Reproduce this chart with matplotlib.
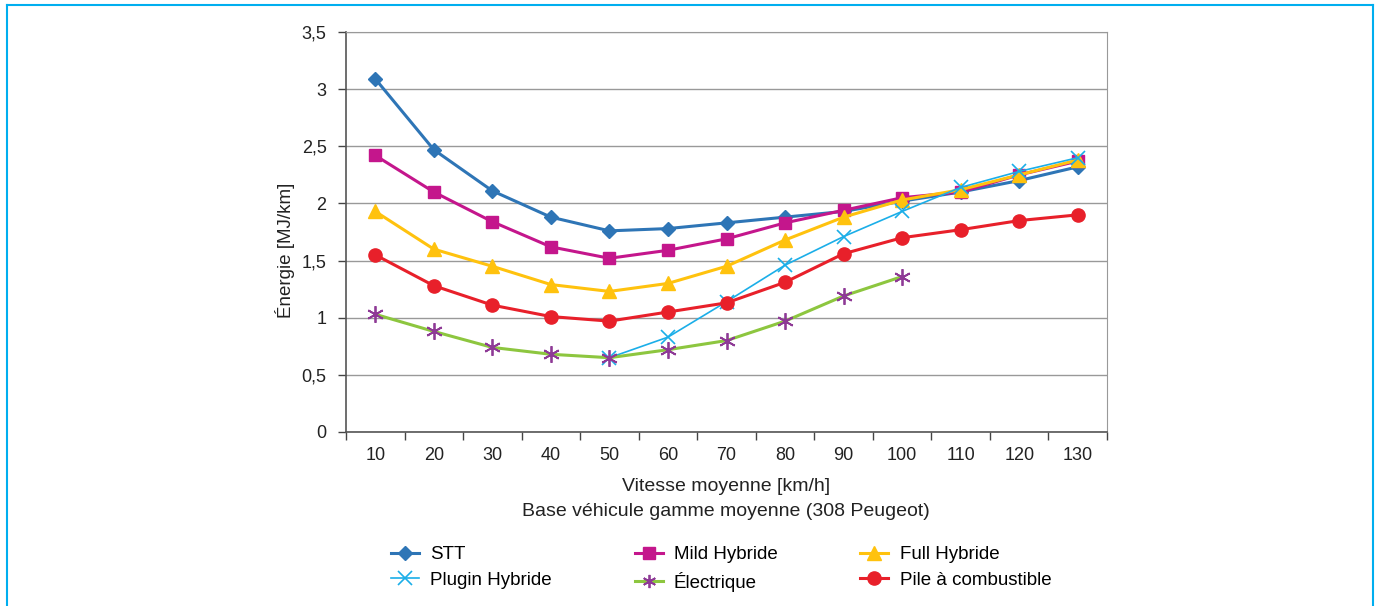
import matplotlib.pyplot as plt
import numpy as np
from matplotlib.lines import Line2D

nan = np.nan
speeds = ["10", "20", "30", "40", "50", "60", "70", "80", "90", "100", "110", "120", "130"]
stt = [3.09, 2.47, 2.11, 1.88, 1.76, 1.78, 1.83, 1.88, 1.93, 2.02, 2.10, 2.20, 2.32]
mild = [2.42, 2.10, 1.84, 1.62, 1.52, 1.59, 1.69, 1.83, 1.94, 2.05, 2.10, 2.25, 2.37]
full = [1.93, 1.60, 1.45, 1.29, 1.23, 1.30, 1.45, 1.68, 1.88, 2.03, 2.12, 2.25, 2.38]
plugin = [nan, nan, nan, nan, 0.65, 0.83, 1.14, 1.46, 1.71, 1.93, 2.14, 2.28, 2.40]
electrique = [1.03, 0.88, 0.74, 0.68, 0.65, 0.72, 0.80, 0.97, 1.19, 1.36, nan, nan, nan]
pile = [1.55, 1.28, 1.11, 1.01, 0.97, 1.05, 1.13, 1.31, 1.56, 1.70, 1.77, 1.85, 1.90]
yticks = [0, 0.5, 1, 1.5, 2, 2.5, 3, 3.5]

plt.rcParams['font.family'] = ['Liberation Sans', 'DejaVu Sans']
txt = '#222222'

fig = plt.figure(figsize=(13.79, 6.06), dpi=100)
ax = fig.add_axes([346 / 1379, 1 - 432 / 606, (1107 - 346) / 1379, (432 - 32) / 606])

x = np.arange(len(speeds))
h_stt, = ax.plot(x, stt, color='#2E75B6', lw=2.2, marker='D', ms=7.5, label='STT')
h_mild, = ax.plot(x, mild, color='#C4168C', lw=2.2, marker='s', ms=8.5, label='Mild Hybride')
h_full, = ax.plot(x, full, color='#FFC20E', lw=2.2, marker='^', ms=10, label='Full Hybride')
h_plug, = ax.plot(x, plugin, color='#1BAEE8', lw=1.2, marker='x', ms=10, mew=1.2, label='Plugin Hybride')
ax.plot(x, electrique, color='#8DC63F', lw=2.2, marker=(6, 2, 0), ms=12, mew=1.3,
        mec='#8E3A96', label='Électrique')
h_pile, = ax.plot(x, pile, color='#E8202A', lw=2.2, marker='o', ms=9.5, label='Pile à combustible')
# smaller legend proxy so both legend rows stay level
h_elec = Line2D([], [], color='#8DC63F', lw=2.2, marker=(6, 2, 0), ms=9.5, mew=1.3,
                mec='#8E3A96', label='Électrique')

ax.set_xlim(-0.5, len(speeds) - 0.5)
ax.set_ylim(0, 3.5)
ax.set_yticks(yticks)
ax.set_yticklabels([f"{v:g}".replace('.', ',') for v in yticks], fontsize=13, color=txt)
ax.set_xticks(x)
ax.set_xticklabels(speeds, fontsize=13, color=txt)
ax.set_xticks(np.arange(-0.5, len(speeds)), minor=True)
ax.tick_params(axis='x', which='major', length=0, pad=11)
ax.tick_params(axis='x', which='minor', length=6, width=1, color='#444444', direction='out')
ax.tick_params(axis='y', length=6, width=1, color='#444444', pad=8)
ax.grid(axis='y', color='#999999', lw=1)
ax.set_axisbelow(True)
for s in ['top', 'right']:
    ax.spines[s].set_color('#999999')
for s in ['left', 'bottom']:
    ax.spines[s].set_color('#555555')
    ax.spines[s].set_linewidth(1.2)

ax.set_ylabel('Énergie [MJ/km]', fontsize=13.5, color=txt)
ax.yaxis.set_label_coords((295 - 346) / 761, (432 - 250) / 400)
ax.set_xlabel('Vitesse moyenne [km/h]', fontsize=14, color=txt, labelpad=10)
fig.text(726 / 1379, 1 - 512 / 606, 'Base véhicule gamme moyenne (308 Peugeot)',
         ha='center', va='center', fontsize=14, color=txt)

# row-wise order: STT / Mild / Full on top, Plugin / Électrique / Pile below
handles = [h_stt, h_plug, h_mild, h_elec, h_full, h_pile]
fig.legend(handles=handles, loc='upper left', bbox_to_anchor=(391 / 1379, 1 - 546 / 606), ncol=3,
           frameon=False, fontsize=13.5, columnspacing=4.4, handlelength=1.5, handletextpad=0.6,
           labelspacing=0.45, borderpad=0, borderaxespad=0)

border = '#00AEEF'
fig.add_artist(Line2D([6.5 / 1379, 6.5 / 1379], [0, 1 - 4.5 / 606], color=border, lw=1.5))
fig.add_artist(Line2D([6.5 / 1379, 1373 / 1379], [1 - 4.5 / 606, 1 - 4.5 / 606], color=border, lw=1.5))
fig.add_artist(Line2D([1373 / 1379, 1373 / 1379], [0, 1 - 4.5 / 606], color=border, lw=1.5))

fig.savefig('out.png', dpi=100)
